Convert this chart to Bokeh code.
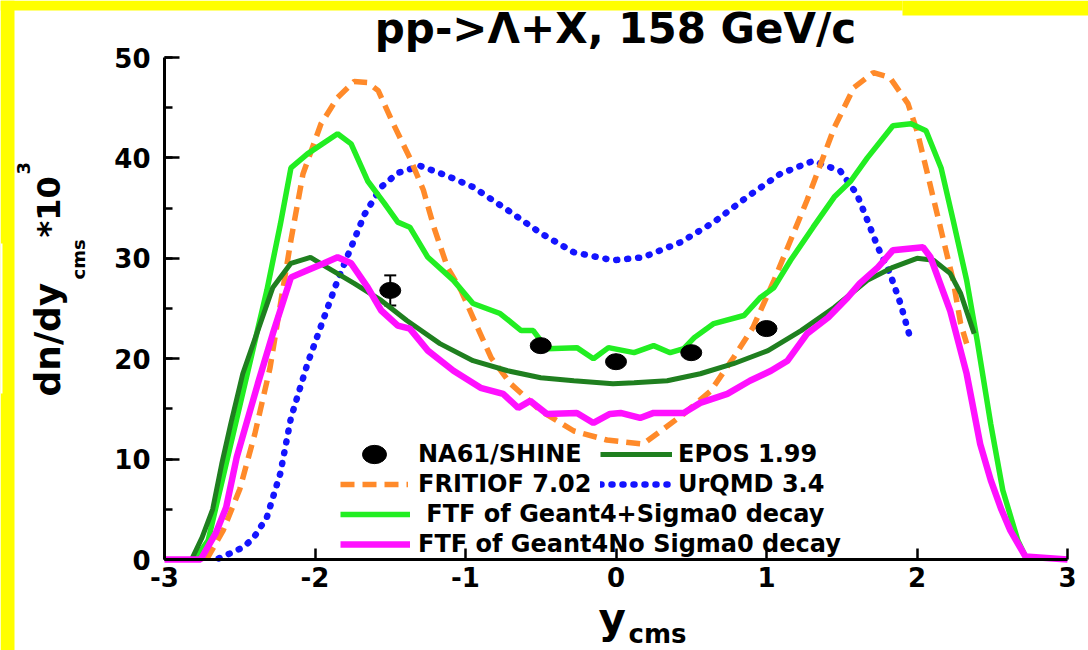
import numpy as np
from bokeh.plotting import figure
from bokeh.models import (Range1d, SingleIntervalTicker, Label, Legend, LegendItem,
                          Whisker, ColumnDataSource, TeeHead, BoxAnnotation)
from bokeh.embed import file_html
from bokeh.resources import INLINE

# ---------------- data ----------------
na61_x = [-1.5, -0.5, 0.0, 0.5, 1.0]
na61_y = [26.8, 21.3, 19.7, 20.6, 23.0]
na61_err = [1.5, 0.5, 0.5, 0.5, 0.5]

epos_x = [-2.82, -2.75, -2.68, -2.62, -2.56, -2.48, -2.38, -2.28, -2.16, -2.03, -1.92, -1.74,
          -1.56, -1.39, -1.17, -0.95, -0.72, -0.50, -0.28, -0.02, 0.12, 0.34, 0.56, 0.78,
          1.01, 1.23, 1.45, 1.67, 1.84, 2.00, 2.11, 2.22, 2.29, 2.38]
epos_y = [0.0, 2.2, 5.0, 9.5, 13.5, 18.5, 22.8, 27.1, 29.5, 30.1, 29.1, 27.5,
          25.8, 23.8, 21.5, 19.8, 18.8, 18.1, 17.8, 17.5, 17.6, 17.8, 18.5, 19.5,
          20.8, 22.8, 25.1, 27.8, 29.1, 30.0, 29.8, 28.5, 26.5, 22.5]

fritiof_x = [-2.72, -2.61, -2.50, -2.40, -2.30, -2.16, -2.08, -1.96, -1.85, -1.74, -1.65, -1.58,
             -1.48, -1.37, -1.28, -1.21, -1.12, -1.03, -0.92, -0.83, -0.70, -0.50, -0.28, -0.06,
             0.18, 0.45, 0.63, 0.78, 0.91, 1.05, 1.16, 1.27, 1.36, 1.45, 1.58, 1.71,
             1.82, 1.94, 2.00, 2.07, 2.16, 2.24, 2.29, 2.33]
fritiof_y = [0.0, 2.9, 7.0, 12.5, 19.0, 31.8, 38.4, 43.4, 46.0, 47.6, 47.5, 46.7,
             43.4, 40.0, 36.8, 33.1, 29.1, 26.8, 23.1, 20.1, 17.5, 14.8, 12.8, 11.9,
             11.5, 14.5, 16.8, 20.1, 23.1, 27.8, 31.8, 35.8, 39.4, 43.0, 47.0, 48.5,
             48.0, 45.4, 42.7, 38.4, 32.8, 27.8, 23.5, 21.5]

urqmd_x = [-2.64, -2.55, -2.48, -2.41, -2.32, -2.23, -2.16, -2.05, -1.94, -1.85, -1.76, -1.67,
           -1.56, -1.45, -1.30, -1.12, -0.95, -0.72, -0.50, -0.28, -0.02, 0.18, 0.43, 0.65,
           0.87, 1.09, 1.31, 1.49, 1.60, 1.67, 1.74, 1.82, 1.89, 1.96]
urqmd_y = [0.1, 0.7, 1.2, 2.1, 4.2, 8.6, 14.1, 19.5, 24.1, 27.8, 31.1, 34.4,
           37.1, 38.5, 39.2, 38.2, 37.1, 34.8, 32.5, 30.6, 29.8, 30.1, 31.6, 33.6,
           36.1, 38.4, 39.7, 38.7, 36.4, 33.8, 31.1, 28.5, 25.5, 21.8]

ftf_s0_x = [-2.80, -2.71, -2.58, -2.45, -2.32, -2.23, -2.16, -2.05, -1.85, -1.76, -1.65, -1.54,
            -1.45, -1.37, -1.25, -1.08, -0.95, -0.77, -0.63, -0.55, -0.46, -0.26, -0.15, -0.05,
            0.12, 0.25, 0.36, 0.45, 0.52, 0.65, 0.85, 0.96, 1.05, 1.16, 1.31, 1.45,
            1.56, 1.67, 1.84, 1.96, 2.06, 2.16, 2.24, 2.33, 2.40, 2.49, 2.57, 2.67, 2.73]
ftf_s0_y = [0.0, 1.9, 10.2, 18.5, 26.8, 33.4, 39.0, 40.4, 42.4, 41.4, 37.7, 35.5,
            33.6, 33.1, 30.1, 27.8, 25.5, 24.5, 22.8, 22.8, 21.0, 21.1, 20.0, 21.1,
            20.6, 21.3, 20.6, 21.0, 22.1, 23.5, 24.3, 26.1, 27.1, 29.8, 33.1, 36.1,
            37.7, 40.0, 43.2, 43.4, 42.7, 39.0, 33.8, 27.8, 21.8, 13.5, 6.9, 1.9, 0.0]

ftf_nos0_x = [-3.0, -2.76, -2.66, -2.59, -2.52, -2.38, -2.28, -2.16, -2.05, -1.94, -1.85, -1.76,
              -1.65, -1.56, -1.45, -1.37, -1.25, -1.08, -0.90, -0.75, -0.65, -0.57, -0.46, -0.26,
              -0.15, -0.04, 0.03, 0.16, 0.25, 0.45, 0.56, 0.74, 0.89, 1.03, 1.14, 1.27,
              1.41, 1.54, 1.62, 1.74, 1.84, 2.04, 2.09, 2.22, 2.33, 2.42, 2.49, 2.56,
              2.62, 2.72, 3.0]
ftf_nos0_y = [0.0, 0.0, 2.6, 5.2, 10.2, 17.5, 22.5, 28.1, 28.8, 29.5, 30.1, 29.5,
              27.1, 24.8, 23.3, 23.0, 20.8, 18.8, 17.1, 16.5, 15.1, 15.8, 14.5, 14.6,
              13.6, 14.5, 14.6, 14.1, 14.6, 14.6, 15.6, 16.5, 17.8, 18.8, 19.8, 22.5,
              24.1, 26.1, 27.5, 29.1, 30.8, 31.1, 30.1, 24.8, 18.5, 11.5, 7.9, 5.0,
              2.9, 0.3, 0.0]

title_text = "pp->\u039b+X, 158 GeV/c"
x_tick_labels = {-3: "-3", -2: "-2", -1: "-1", 0: "0", 1: "1", 2: "2", 3: "3"}
x_ticks_interval = 1
y_ticks_interval = 10

FONT = "DejaVu Sans"


# pixel <-> data mapping of the reference (x=-3 at px 164, x=3 at px 1067; y=0 at py 559, y=50 at py 57)
def px2x(px):
    return -3 + (px - 164) / 150.5


def py2y(py):
    return (559 - py) / 10.04


fig = figure(width=1088, height=650, output_backend="svg", toolbar_location=None,
             x_range=Range1d(px2x(0), px2x(1088)), y_range=Range1d(py2y(650), py2y(0)),
             min_border=0, min_border_left=0, min_border_right=0, min_border_top=0,
             min_border_bottom=0, background_fill_color="white", border_fill_color="white")
fig.outline_line_color = None
fig.grid.visible = False

fig.xaxis.ticker = SingleIntervalTicker(interval=x_ticks_interval, num_minor_ticks=0)
fig.yaxis.ticker = SingleIntervalTicker(interval=y_ticks_interval, num_minor_ticks=2)
fig.xaxis.fixed_location = 0
fig.yaxis.fixed_location = -3
fig.xaxis.bounds = (-3, 3)
fig.yaxis.bounds = (0, 50)
fig.xaxis.major_label_overrides = x_tick_labels
for ax in (fig.xaxis[0], fig.yaxis[0]):
    ax.axis_line_width = 3
    ax.axis_line_color = "black"
    ax.major_tick_line_width = 2.5
    ax.minor_tick_line_width = 2.5
    ax.major_tick_out = 0
    ax.minor_tick_out = 0
    ax.major_label_text_font = FONT
    ax.major_label_text_font_style = "bold"
    ax.major_label_text_font_size = "26px"
    ax.major_label_text_color = "black"
fig.xaxis.major_tick_in = 11
fig.xaxis.major_label_standoff = 7
fig.yaxis.major_tick_in = 15
fig.yaxis.minor_tick_in = 8
fig.yaxis.major_label_standoff = 14

r_urqmd = fig.line(urqmd_x, urqmd_y, line_color="#1414ff", line_width=6.5,
                   line_dash="1 10", line_cap="round")
r_frit = fig.line(fritiof_x, fritiof_y, line_color="#ff8a2a", line_width=5.5,
                  line_dash="14 8")
r_s0 = fig.line(ftf_s0_x, ftf_s0_y, line_color="#22ee22", line_width=5.5)
r_epos = fig.line(epos_x, epos_y, line_color="#1f7f1f", line_width=5)
r_nos0 = fig.line(ftf_nos0_x, ftf_nos0_y, line_color="#ff10ff", line_width=6.5)

src = ColumnDataSource(dict(x=na61_x, y=na61_y,
                            upper=[v + e for v, e in zip(na61_y, na61_err)],
                            lower=[v - e for v, e in zip(na61_y, na61_err)]))
fig.add_layout(Whisker(source=src, base="x", upper="upper", lower="lower",
                       line_width=2, line_color="black",
                       upper_head=TeeHead(size=12, line_width=2, line_color="black"),
                       lower_head=TeeHead(size=12, line_width=2, line_color="black")))
r_na = fig.ellipse("x", "y", width=21, height=16, width_units="screen", height_units="screen",
                   fill_color="black", line_color="black", source=src)


def make_legend(items, loc, gw, standoff):
    lg = Legend(items=items, location=loc, glyph_width=gw, glyph_height=30, label_height=30,
                label_standoff=standoff, spacing=0, padding=0, margin=0,
                label_text_font=FONT, label_text_font_style="bold",
                label_text_font_size="24px", label_text_color="black",
                background_fill_alpha=0, border_line_alpha=0)
    fig.add_layout(lg, "center")


# locations: bottom-left corner of each legend block, in pixels from the canvas bottom-left
make_legend([LegendItem(label="NA61/SHINE", renderers=[r_na]),
             LegendItem(label="FRITIOF 7.02", renderers=[r_frit])], (340, 151), 68, 10)
make_legend([LegendItem(label="EPOS 1.99", renderers=[r_epos]),
             LegendItem(label="UrQMD 3.4", renderers=[r_urqmd])], (600, 151), 72, 6)
make_legend([LegendItem(label=" FTF of Geant4+Sigma0 decay", renderers=[r_s0]),
             LegendItem(label="FTF of Geant4No Sigma0 decay", renderers=[r_nos0])], (340, 91), 70, 8)


def add_text(txt, px, py, size, rotated=False, align="left"):
    """px/py: start (or centre) of the text's baseline, in reference pixels."""
    shift = 0.35 * size  # baseline -> middle of the text box
    if rotated:
        ax_, ay_, ang = px - shift, py, np.pi / 2
    else:
        ax_, ay_, ang = px, py - shift, 0.0
    fig.add_layout(Label(x=px2x(ax_), y=py2y(ay_), text=txt, angle=ang,
                         text_font=FONT, text_font_style="bold", text_font_size=f"{size}px",
                         text_color="black", text_align=align, text_baseline="middle"))


add_text(title_text, 615, 43, 42, align="center")
# y-axis label: dn/dy_cms *10^3
add_text("dn/dy", 60, 396, 36, rotated=True)
add_text("cms", 84, 279, 18, rotated=True)
add_text("*10", 60, 237, 32, rotated=True)
add_text("3", 29, 174, 18, rotated=True)
# x-axis label: y_cms
add_text("y", 598, 633, 42)
add_text("cms", 628, 643, 26)

# yellow page border strips
yel = dict(fill_color="#ffff00", fill_alpha=1.0, line_alpha=0)
fig.add_layout(BoxAnnotation(right=px2x(14), **yel))
fig.add_layout(BoxAnnotation(bottom=py2y(10), right=px2x(902), **yel))
fig.add_layout(BoxAnnotation(bottom=py2y(15), left=px2x(902), **yel))
fig.add_layout(BoxAnnotation(right=px2x(2), top=py2y(243), bottom=py2y(393),
                             fill_color="white", fill_alpha=1.0, line_alpha=0))

p = fig
open("out.html", "w").write(file_html(p, INLINE))
